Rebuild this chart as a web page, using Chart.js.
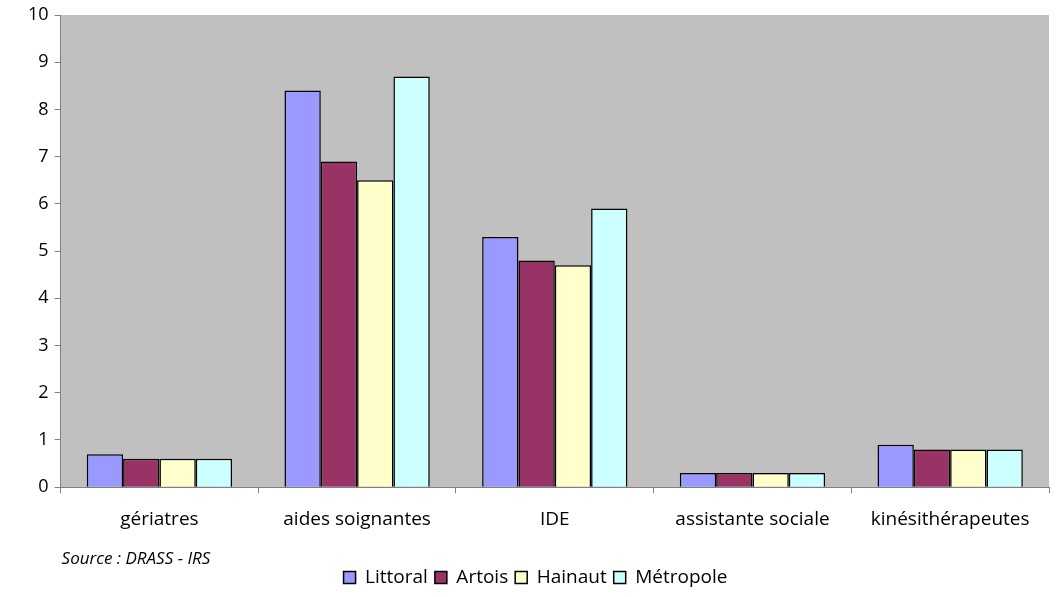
<!DOCTYPE html>
<html>
<head>
<meta charset="utf-8">
<script src="https://cdn.jsdelivr.net/npm/chart.js@4.4.0/dist/chart.umd.min.js"></script>
<style>
  html, body { margin: 0; padding: 0; background: #fff; }
  #wrap { width: 1061px; height: 597px; position: relative; }
</style>
</head>
<body>
<div id="wrap"><canvas id="chart"></canvas></div>
<script>
// data
const categories = ['gériatres', 'aides soignantes', 'IDE', 'assistante sociale', 'kinésithérapeutes'];
const littoral  = [0.7, 8.4, 5.3, 0.3, 0.9];
const artois    = [0.6, 6.9, 4.8, 0.3, 0.8];
const hainaut   = [0.6, 6.5, 4.7, 0.3, 0.8];
const metropole = [0.6, 8.7, 5.9, 0.3, 0.8];
const yTicks    = [0, 1, 2, 3, 4, 5, 6, 7, 8, 9, 10];
const sourceText = 'Source : DRASS - IRS';

const FONT = "'Open Sans', 'Liberation Sans', sans-serif";

function series(label, data, color) {
    return {
        label, data,
        backgroundColor: color,
        borderColor: '#000',
        borderWidth: 1.5,
        barPercentage: 1,
        categoryPercentage: 0.735
    };
}

// grey plot background
const plotBg = {
    id: 'plotBg',
    beforeDraw(chart) {
        const { ctx, chartArea: a } = chart;
        ctx.save();
        ctx.fillStyle = '#C0C0C0';
        ctx.fillRect(a.left, a.top, a.right - a.left, a.bottom - a.top);
        ctx.restore();
    }
};

// italic source note under the category labels
const sourceNote = {
    id: 'sourceNote',
    afterDraw(chart) {
        const { ctx, chartArea: a } = chart;
        ctx.save();
        ctx.font = "italic 17px " + FONT;
        ctx.fillStyle = '#000';
        ctx.textBaseline = 'middle';
        ctx.fillText(sourceText, a.left + 1, a.bottom + 72);
        ctx.restore();
    }
};

new Chart(document.getElementById('chart'), {
    type: 'bar',
    data: {
        labels: categories,
        datasets: [
            series('Littoral',  littoral,  '#9999FF'),
            series('Artois',    artois,    '#993366'),
            series('Hainaut',   hainaut,   '#FFFFCC'),
            series('Métropole', metropole, '#CCFFFF')
        ]
    },
    options: {
        responsive: true,
        maintainAspectRatio: false,
        animation: false,
        layout: { padding: { top: 1, right: 12, left: 22, bottom: 0 } },
        plugins: {
            legend: {
                position: 'bottom',
                labels: {
                    color: '#000',
                    font: { family: FONT, size: 19 },
                    boxWidth: 12,
                    boxHeight: 12,
                    padding: 7,
                    useBorderRadius: false
                }
            },
            tooltip: { enabled: false }
        },
        scales: {
            x: {
                grid: { display: true, drawOnChartArea: false, drawTicks: true, tickLength: 6, color: '#808080', offset: true },
                border: { color: '#808080', width: 1 },
                ticks: { color: '#000', font: { family: FONT, size: 19 }, padding: 15, maxRotation: 0 },
                afterFit(scale) { scale.height += 15; }   // room for the source note
            },
            y: {
                min: 0, max: 10,
                afterBuildTicks(axis) { axis.ticks = yTicks.map(v => ({ value: v })); },
                grid: { display: true, drawOnChartArea: false, drawTicks: true, tickLength: 6, color: '#808080' },
                border: { color: '#808080', width: 1 },
                ticks: { color: '#000', font: { family: FONT, size: 18, lineHeight: 1 }, padding: 6 }
            }
        }
    },
    plugins: [plotBg, sourceNote]
});
</script>
</body>
</html>
